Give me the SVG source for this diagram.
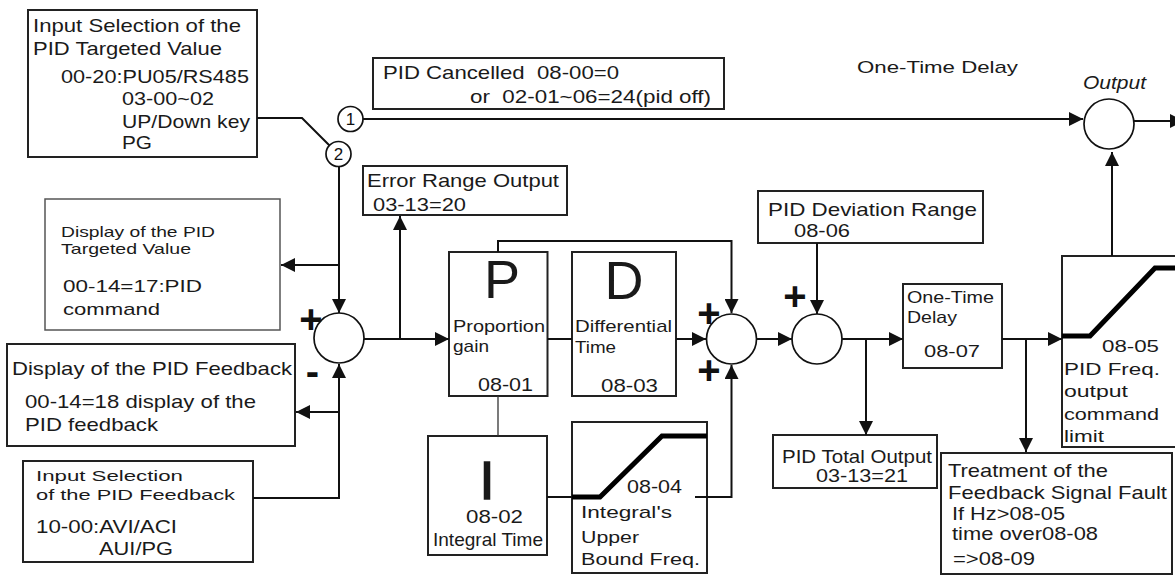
<svg xmlns="http://www.w3.org/2000/svg" width="1175" height="575" viewBox="0 0 1175 575">
<defs>
<marker id="ah" markerUnits="userSpaceOnUse" markerWidth="14" markerHeight="14" refX="14" refY="7" orient="auto" viewBox="0 0 14 14"><path d="M0,0 L14,7 L0,14 z" fill="#111"/></marker>
</defs>
<style>
.box{fill:#fff;stroke:#222;stroke-width:2}
.boxg{fill:#fff;stroke:#555;stroke-width:1.5}
.t{font-family:"Liberation Sans",Arial,sans-serif;fill:#1a1a1a}
.f15{font-size:15px}
.f16{font-size:16.5px}
.f17{font-size:17px}
.f18{font-size:18.5px}
.f19{font-size:19px}
.big{font-size:54px;text-anchor:middle}
.sign{font-family:"Liberation Sans",Arial,sans-serif;font-weight:bold;font-size:40px;text-anchor:middle;fill:#111}
.num{font-family:"Liberation Sans",Arial,sans-serif;font-size:17px;text-anchor:middle;fill:#111}
.ln{fill:none;stroke:#111;stroke-width:2}
.thin{fill:none;stroke:#333;stroke-width:1.3}
.arr{marker-end:url(#ah)}
.circ{fill:#fff;stroke:#111;stroke-width:1.7}
.thick{fill:none;stroke:#000;stroke-width:5}
</style>
<rect width="1175" height="575" fill="#fff"/>

<g id="n-target-input">
<rect class="box" x="28" y="10" width="229" height="147"/>
<text class="t f18" x="33" y="32" textLength="208" lengthAdjust="spacingAndGlyphs">Input Selection of the</text>
<text class="t f18" x="33" y="55" textLength="189" lengthAdjust="spacingAndGlyphs">PID Targeted Value</text>
<text class="t f18" x="61" y="83" textLength="188" lengthAdjust="spacingAndGlyphs">00-20:PU05/RS485</text>
<text class="t f18" x="122" y="105" textLength="92" lengthAdjust="spacingAndGlyphs">03-00~02</text>
<text class="t f18" x="122" y="128" textLength="128" lengthAdjust="spacingAndGlyphs">UP/Down key</text>
<text class="t f18" x="122" y="149" textLength="30" lengthAdjust="spacingAndGlyphs">PG</text>
</g>

<g id="n-switch1">
<circle class="circ" cx="350.5" cy="119" r="12.5"/>
<text class="num" x="350.5" y="125">1</text>
</g>
<g id="n-switch2">
<circle class="circ" cx="338.5" cy="154" r="12.5"/>
<text class="num" x="338.5" y="160">2</text>
</g>

<g id="n-cancelled">
<rect class="box" x="373" y="58" width="351" height="51"/>
<text class="t f18" x="383" y="79" textLength="236" lengthAdjust="spacingAndGlyphs" xml:space="preserve">PID Cancelled  08-00=0</text>
<text class="t f18" x="470" y="103" textLength="241" lengthAdjust="spacingAndGlyphs" xml:space="preserve">or  02-01~06=24(pid off)</text>
</g>

<g id="n-onetime-label">
<text class="t f17" x="857" y="73" textLength="161" lengthAdjust="spacingAndGlyphs">One-Time Delay</text>
</g>

<g id="n-output">
<circle class="circ" cx="1109" cy="124" r="25"/>
<text class="t f19" x="1083" y="89" font-style="italic" textLength="63" lengthAdjust="spacingAndGlyphs">Output</text>
</g>

<g id="n-error-range">
<rect class="box" x="363" y="166" width="204" height="49"/>
<text class="t f18" x="367" y="187" textLength="192" lengthAdjust="spacingAndGlyphs">Error Range Output</text>
<text class="t f18" x="373" y="211" textLength="93" lengthAdjust="spacingAndGlyphs">03-13=20</text>
</g>

<g id="n-display-target">
<rect class="boxg" x="45" y="199" width="235" height="131"/>
<text class="t f15" x="61" y="237" textLength="154" lengthAdjust="spacingAndGlyphs">Display of the PID</text>
<text class="t f15" x="61" y="254" textLength="130" lengthAdjust="spacingAndGlyphs">Targeted Value</text>
<text class="t f17" x="63" y="292" textLength="139" lengthAdjust="spacingAndGlyphs">00-14=17:PID</text>
<text class="t f17" x="63" y="315" textLength="97" lengthAdjust="spacingAndGlyphs">command</text>
</g>

<g id="n-display-feedback">
<rect class="box" x="7" y="344" width="288" height="102"/>
<text class="t f19" x="12" y="375" textLength="280" lengthAdjust="spacingAndGlyphs">Display of the PID Feedback</text>
<text class="t f19" x="25" y="408" textLength="231" lengthAdjust="spacingAndGlyphs">00-14=18 display of the</text>
<text class="t f19" x="25" y="431" textLength="133" lengthAdjust="spacingAndGlyphs">PID feedback</text>
</g>

<g id="n-feedback-input">
<rect class="box" x="23" y="461" width="230" height="101"/>
<text class="t f15" x="36" y="481" textLength="147" lengthAdjust="spacingAndGlyphs">Input Selection</text>
<text class="t f15" x="36" y="500" textLength="199" lengthAdjust="spacingAndGlyphs">of the PID Feedback</text>
<text class="t f18" x="36" y="533" textLength="141" lengthAdjust="spacingAndGlyphs">10-00:AVI/ACI</text>
<text class="t f18" x="99" y="555" textLength="74" lengthAdjust="spacingAndGlyphs">AUI/PG</text>
</g>

<g id="n-sum1">
<circle class="circ" cx="339" cy="338" r="25"/>
<text class="sign" x="311" y="333">+</text>
<text class="sign" x="312.5" y="385">-</text>
</g>

<g id="n-p">
<rect class="box" x="449" y="252" width="98.5" height="144"/>
<text class="t big" x="502" y="298">P</text>
<text class="t f17" x="453" y="332" textLength="92" lengthAdjust="spacingAndGlyphs">Proportion</text>
<text class="t f17" x="453" y="352" textLength="36" lengthAdjust="spacingAndGlyphs">gain</text>
<text class="t f19" x="478" y="391" textLength="55" lengthAdjust="spacingAndGlyphs">08-01</text>
</g>

<g id="n-d">
<rect class="box" x="572" y="252" width="104" height="144"/>
<text class="t big" x="624" y="299">D</text>
<text class="t f17" x="575" y="332" textLength="97" lengthAdjust="spacingAndGlyphs">Differential</text>
<text class="t f17" x="575" y="353" textLength="41" lengthAdjust="spacingAndGlyphs">Time</text>
<text class="t f19" x="601" y="392" textLength="57" lengthAdjust="spacingAndGlyphs">08-03</text>
</g>

<g id="n-i">
<rect class="box" x="428" y="436" width="119" height="119"/>
<text class="t big" x="487" y="499" font-size="57" stroke="#1a1a1a" stroke-width="1.5">I</text>
<text class="t f18" x="466" y="523" textLength="57" lengthAdjust="spacingAndGlyphs">08-02</text>
<text class="t f18" x="433" y="546" textLength="110" lengthAdjust="spacingAndGlyphs">Integral Time</text>
</g>

<g id="n-integral-limit">
<rect class="box" x="572" y="422" width="135" height="151"/>
<polyline class="thick" points="572,497 600,497 662,436 707,436"/>
<text class="t f18" x="627" y="493" textLength="55" lengthAdjust="spacingAndGlyphs">08-04</text>
<text class="t f17" x="581" y="518" textLength="91" lengthAdjust="spacingAndGlyphs">Integral's</text>
<text class="t f17" x="581" y="543" textLength="58" lengthAdjust="spacingAndGlyphs">Upper</text>
<text class="t f17" x="581" y="565" textLength="119" lengthAdjust="spacingAndGlyphs">Bound Freq.</text>
</g>

<g id="n-sum2">
<circle class="circ" cx="731.5" cy="339" r="25"/>
<text class="sign" x="709" y="327">+</text>
<text class="sign" x="709" y="384">+</text>
</g>

<g id="n-deviation">
<rect class="box" x="758" y="191" width="225" height="52"/>
<text class="t f18" x="768" y="216" textLength="209" lengthAdjust="spacingAndGlyphs">PID Deviation Range</text>
<text class="t f18" x="794" y="237" textLength="56" lengthAdjust="spacingAndGlyphs">08-06</text>
</g>

<g id="n-sum3">
<circle class="circ" cx="817" cy="339" r="25"/>
<text class="sign" x="795" y="310">+</text>
</g>

<g id="n-delay">
<rect class="box" x="903" y="284" width="99" height="84"/>
<text class="t f16" x="907" y="303" textLength="87" lengthAdjust="spacingAndGlyphs">One-Time</text>
<text class="t f16" x="907" y="323" textLength="50" lengthAdjust="spacingAndGlyphs">Delay</text>
<text class="t f17" x="924" y="357" textLength="56" lengthAdjust="spacingAndGlyphs">08-07</text>
</g>

<g id="n-total">
<rect class="box" x="773" y="435" width="164" height="53"/>
<text class="t f18" x="782" y="463" textLength="150" lengthAdjust="spacingAndGlyphs">PID Total Output</text>
<text class="t f18" x="816" y="482" textLength="92" lengthAdjust="spacingAndGlyphs">03-13=21</text>
</g>

<g id="n-freq-limit">
<rect class="box" x="1062" y="256" width="130" height="191"/>
<polyline class="thick" points="1062,336 1090,336 1155,268 1180,268"/>
<text class="t f17" x="1102" y="352" textLength="57" lengthAdjust="spacingAndGlyphs">08-05</text>
<text class="t f17" x="1064" y="375" textLength="96" lengthAdjust="spacingAndGlyphs">PID Freq.</text>
<text class="t f17" x="1064" y="397" textLength="64" lengthAdjust="spacingAndGlyphs">output</text>
<text class="t f17" x="1064" y="420" textLength="95" lengthAdjust="spacingAndGlyphs">command</text>
<text class="t f17" x="1064" y="442" textLength="40" lengthAdjust="spacingAndGlyphs">limit</text>
</g>

<g id="n-treatment">
<rect class="box" x="941" y="453" width="231" height="121"/>
<text class="t f18" x="948" y="477" textLength="160" lengthAdjust="spacingAndGlyphs">Treatment of the</text>
<text class="t f18" x="948" y="499" textLength="219" lengthAdjust="spacingAndGlyphs">Feedback Signal Fault</text>
<text class="t f18" x="952" y="520" textLength="113" lengthAdjust="spacingAndGlyphs">If Hz&gt;08-05</text>
<text class="t f18" x="952" y="540" textLength="146" lengthAdjust="spacingAndGlyphs">time over08-08</text>
<text class="t f18" x="953" y="565" textLength="82" lengthAdjust="spacingAndGlyphs">=&gt;08-09</text>
</g>

<g id="connectors">
<polyline class="ln" points="257,118 302,118 329.5,145.5"/>
<line class="ln arr" x1="363" y1="119" x2="1083" y2="119"/>
<line class="ln arr" x1="339" y1="167" x2="339" y2="313"/>
<line class="ln arr" x1="339" y1="265" x2="281" y2="265"/>
<polyline class="ln arr" points="253,498 339,498 339,364"/>
<line class="ln arr" x1="339" y1="412" x2="296" y2="412"/>
<line class="ln arr" x1="364" y1="339" x2="449" y2="339"/>
<line class="ln arr" x1="400" y1="339" x2="400" y2="216"/>
<polyline class="ln arr" points="498,252 498,241 731.5,241 731.5,313"/>
<line class="ln" x1="547.5" y1="339" x2="572" y2="339"/>
<line class="ln arr" x1="676" y1="339" x2="706" y2="339"/>
<line class="thin" x1="498" y1="396" x2="498" y2="436"/>
<line class="ln" x1="547" y1="497" x2="572" y2="497"/>
<polyline class="ln arr" points="695,497 731.5,497 731.5,365"/>
<line class="ln arr" x1="757" y1="339" x2="792" y2="339"/>
<line class="ln arr" x1="817" y1="243" x2="817" y2="314"/>
<line class="ln arr" x1="842" y1="339" x2="903" y2="339"/>
<line class="ln arr" x1="866" y1="339" x2="866" y2="435"/>
<line class="ln arr" x1="1002" y1="339" x2="1062" y2="339"/>
<line class="ln arr" x1="1026" y1="339" x2="1026" y2="452"/>
<line class="ln arr" x1="1112" y1="256" x2="1112" y2="152"/>
<line class="ln arr" x1="1134" y1="121" x2="1184" y2="121"/>
</g>
</svg>
